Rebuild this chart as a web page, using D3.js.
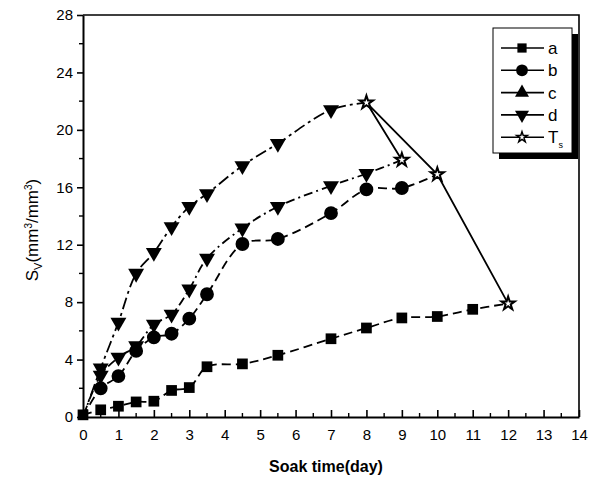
<!DOCTYPE html>
<html>
<head>
<meta charset="utf-8">
<script src="https://cdn.jsdelivr.net/npm/d3@7"></script>
<style>
  body { margin: 0; background: #fff; }
  svg { font-family: "Liberation Sans", Arial, sans-serif; }
</style>
</head>
<body>
<div id="chart"></div>
<script>
// data
var aDays = [0, 0.5, 1, 1.5, 2, 2.5, 3, 3.5, 4.5, 5.5, 7, 8, 9, 10, 11, 12];
var aSv   = [0.15, 0.5, 0.75, 1.05, 1.1, 1.85, 2.05, 3.5, 3.7, 4.3, 5.45, 6.2, 6.9, 7.0, 7.5, 7.9];
var bDays = [0, 0.5, 1, 1.5, 2, 2.5, 3, 3.5, 4.5, 5.5, 7, 8, 9, 10];
var bSv   = [0, 2.0, 2.85, 4.6, 5.55, 5.8, 6.85, 8.55, 12.05, 12.4, 14.2, 15.85, 15.95, 16.9];
var cDays = [0, 0.5, 1, 1.5, 2, 2.5, 3, 3.5, 4.5, 5.5, 7, 8, 9];
var cSv   = [0, 2.9, 4.15, 4.95, 6.45, 7.15, 8.9, 11.05, 13.15, 14.65, 16.1, 16.95, 17.9];
var dDays = [0, 0.5, 1, 1.5, 2, 2.5, 3, 3.5, 4.5, 5.5, 7, 8];
var dSv   = [0, 3.4, 6.6, 10.0, 11.45, 13.25, 14.65, 15.55, 17.5, 19.05, 21.4, 21.9];
// Ts: end points of each series
var tsDays = [9, 8, 10, 12];
var tsSv   = [17.9, 21.9, 16.9, 7.9];

var xTicks = d3.range(0, 15, 1);
var yTicks = d3.range(0, 29, 4);
var legendNames = ["a", "b", "c", "d", "T"];

var width = 595, height = 482;

var svg = d3.select("#chart").append("svg")
    .attr("width", width)
    .attr("height", height);

var x = d3.scaleLinear().domain([0, 14]).range([83, 579]);
var y = d3.scaleLinear().domain([0, 28]).range([417, 15]);

//frame (top + right)
svg.append("path")
    .attr("d", "M" + x(0) + "," + y(28) + "H" + x(14) + "V" + y(0))
    .attr("fill", "none").attr("stroke", "#000").attr("stroke-width", 1.6);

//x axis, ticks pointing inward
var xAxis = svg.append("g").attr("transform", "translate(0," + y(0) + ")")
    .call(d3.axisBottom(x).tickValues(xTicks).tickSizeInner(-7).tickSizeOuter(0).tickPadding(12));
xAxis.selectAll(".tick text").style("font-size", "15px").attr("dy", "0.71em");
xAxis.selectAll("line, path").attr("stroke-width", 1.6);
xAxis.select(".domain").attr("stroke-width", 2);
svg.append("g").attr("transform", "translate(0," + y(0) + ")")
    .selectAll("line").data(d3.range(0.5, 14, 1)).enter().append("line")
    .attr("x1", function(d) { return x(d); }).attr("x2", function(d) { return x(d); })
    .attr("y1", 0).attr("y2", -4).attr("stroke", "#000").attr("stroke-width", 1.4);

//y axis, ticks outward
var yAxis = svg.append("g").attr("transform", "translate(" + x(0) + ",0)")
    .call(d3.axisLeft(y).tickValues(yTicks).tickSizeInner(6).tickSizeOuter(0).tickPadding(4));
yAxis.selectAll(".tick text").style("font-size", "15px");
yAxis.selectAll("line").attr("stroke-width", 1.6);
yAxis.select(".domain").attr("stroke-width", 2);
svg.append("g").attr("transform", "translate(" + x(0) + ",0)")
    .selectAll("line").data(d3.range(2, 28, 4)).enter().append("line")
    .attr("y1", function(d) { return y(d); }).attr("y2", function(d) { return y(d); })
    .attr("x1", 0).attr("x2", -4).attr("stroke", "#000").attr("stroke-width", 1.4);

//axis titles
svg.append("text")
    .attr("x", x(7) - 5).attr("y", 472)
    .attr("text-anchor", "middle")
    .style("font-size", "16px").style("font-weight", "bold")
    .text("Soak time(day)");

var yt = svg.append("text")
    .attr("transform", "translate(38,230) rotate(-90)")
    .attr("text-anchor", "middle")
    .style("font-size", "17px");
yt.append("tspan").text("S");
yt.append("tspan").attr("dy", 4).style("font-size", "11px").text("V");
yt.append("tspan").attr("dy", -4).text("(mm");
yt.append("tspan").attr("dy", -6).style("font-size", "10px").text("3");
yt.append("tspan").attr("dy", 6).text("/mm");
yt.append("tspan").attr("dy", -6).style("font-size", "10px").text("3");
yt.append("tspan").attr("dy", 6).text(")");

//marker shapes
var sym = {
  a: d3.symbol().type(d3.symbolSquare).size(115),
  b: d3.symbol().type(d3.symbolCircle).size(150),
  c: d3.symbol().type(d3.symbolTriangle).size(110),
  d: d3.symbol().type(d3.symbolTriangle).size(110),
  T: d3.symbol().type(d3.symbolStar).size(55)
};
var rot = { a: 0, b: 0, c: 180, d: 180, T: 0 };

var series = [
  { key: "a", days: aDays, vals: aSv, dash: "9,5", skipStart: false },
  { key: "b", days: bDays, vals: bSv, dash: "9,5", skipStart: true },
  { key: "c", days: cDays, vals: cSv, dash: "9,4,2,4", skipStart: true },
  { key: "d", days: dDays, vals: dSv, dash: "12,4,3,4", skipStart: true }
];

var line = d3.line()
    .x(function(d) { return x(d[0]); })
    .y(function(d) { return y(d[1]); })
    .curve(d3.curveCatmullRom.alpha(0.5));

series.forEach(function(s) {
  var pts = s.days.map(function(d, i) { return [d, s.vals[i]]; });
  svg.append("path")
      .datum(pts)
      .attr("d", line)
      .attr("fill", "none").attr("stroke", "#000")
      .attr("stroke-width", 1.8).attr("stroke-dasharray", s.dash);
  // the last point of each series is a Ts star, drawn later
  var mk = pts.slice(s.skipStart ? 1 : 0, pts.length - 1);
  svg.append("g").selectAll("path").data(mk).enter().append("path")
      .attr("d", sym[s.key])
      .attr("transform", function(d) { return "translate(" + x(d[0]) + "," + y(d[1]) + ") rotate(" + rot[s.key] + ")"; })
      .attr("fill", "#000");
});

//Ts line
var tsPts = tsDays.map(function(d, i) { return [d, tsSv[i]]; });
svg.append("path")
    .datum(tsPts)
    .attr("d", d3.line().x(function(d) { return x(d[0]); }).y(function(d) { return y(d[1]); }))
    .attr("fill", "none").attr("stroke", "#000").attr("stroke-width", 1.8);
svg.append("g").selectAll("path").data(tsPts).enter().append("path")
    .attr("d", sym.T)
    .attr("transform", function(d) { return "translate(" + x(d[0]) + "," + y(d[1]) + ")"; })
    .attr("fill", "#fff").attr("stroke", "#000").attr("stroke-width", 2);

//legend with shadow
var lg = svg.append("g");
lg.append("rect").attr("x", 499).attr("y", 34).attr("width", 79).attr("height", 125).attr("fill", "#000");
lg.append("rect").attr("x", 493).attr("y", 28).attr("width", 79).attr("height", 125)
    .attr("fill", "#fff").attr("stroke", "#000").attr("stroke-width", 1);

legendNames.forEach(function(k, i) {
  var ly = 48 + i * 22.3;
  lg.append("line").attr("x1", 501).attr("x2", 544).attr("y1", ly).attr("y2", ly)
      .attr("stroke", "#000").attr("stroke-width", 1.6);
  var m = lg.append("path")
      .attr("d", sym[k].size(k === "T" ? 35 : (k === "b" ? 110 : 85))())
      .attr("transform", "translate(522," + ly + ") rotate(" + (k === "c" ? 0 : rot[k]) + ")");
  if (k === "T") m.attr("fill", "#fff").attr("stroke", "#000").attr("stroke-width", 1.5);
  else m.attr("fill", "#000");
  var t = lg.append("text").attr("x", 548).attr("y", ly + 6).style("font-size", "17px").text(k);
  if (k === "T") t.append("tspan").attr("dy", 5).style("font-size", "9px").text("s");
});
</script>
</body>
</html>
